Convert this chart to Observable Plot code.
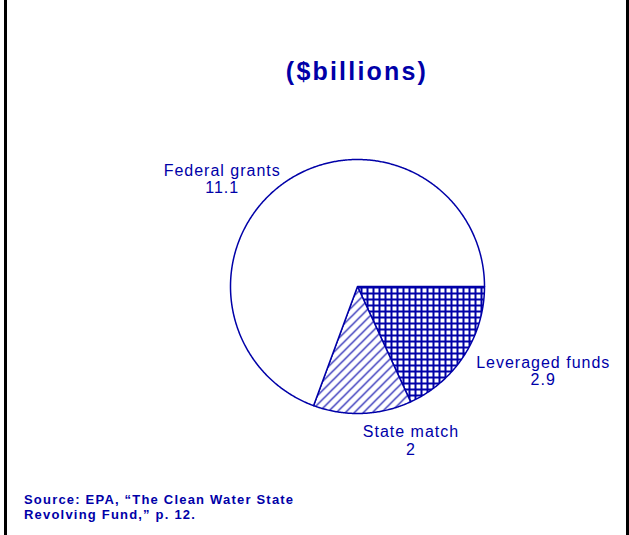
<!DOCTYPE html>
<html>
<head>
<meta charset="utf-8">
<script src="https://cdn.jsdelivr.net/npm/d3@7"></script>
<script src="https://cdn.jsdelivr.net/npm/@observablehq/plot@0.6"></script>
<style>
  html, body { margin: 0; padding: 0; background: #fff; }
  #wrap { position: relative; width: 629px; height: 535px; overflow: hidden; font-family: "Liberation Sans", Arial, sans-serif; }
  #lb { position: absolute; left: 4px; top: 0; width: 3px; height: 535px; background: #000; }
  #rb { position: absolute; left: 626px; top: 0; width: 3px; height: 535px; background: #000; }
  #title { position: absolute; left: 57px; width: 600px; top: 59px; text-align: center; font-size: 25px; line-height: 25px; font-weight: bold; letter-spacing: 2.2px; color: #0000a8; }
  #chart { position: absolute; left: 0; top: 100px; }
  #caption { position: absolute; left: 24px; top: 492px; font-size: 13px; line-height: 15px; font-weight: bold; letter-spacing: 1.2px; color: #0000a8; }
</style>
</head>
<body>
<div id="wrap">
  <div id="lb"></div>
  <div id="rb"></div>
  <div id="title">($billions)</div>
  <div id="chart"></div>
  <div id="caption">Source: EPA, “The Clean Water State<br>Revolving Fund,” p. 12.</div>
</div>
<script>
// ---- data ----
const categories = ["Leveraged funds", "State match", "Federal grants"];
const values = [2.9, 2, 11.1];
const valueLabels = ["2.9", "2", "11.1"];

// ---- styles / layout ----
const BLUE = "#0000a8";
const FONT = "'Liberation Sans', Arial, sans-serif";
const sliceFill = {"Leveraged funds": "url(#grid)", "State match": "url(#hatch)", "Federal grants": "#ffffff"};
const W = 629, H = 380;
const R = 127;            // pie radius in px
const CX = 357, CY = 186; // pie centre inside the svg
const GAP = 8;            // label gap in px
const LS = 1;             // label letter spacing

const rows = categories.map((c, i) => ({name: c, value: values[i], label: valueLabels[i]}));

// pie angles (d3: clockwise from 12 o'clock); start at 3 o'clock
const pie = d3.pie().sort(null).value(d => d.value)
  .startAngle(Math.PI / 2).endAngle(Math.PI / 2 + 2 * Math.PI);
const arcs = pie(rows);

const polys = arcs.map(a => {
  const n = Math.max(2, Math.ceil((a.endAngle - a.startAngle) / (Math.PI / 360)));
  const pts = [{name: a.data.name, x: 0, y: 0}];
  for (let i = 0; i <= n; i++) {
    const t = a.startAngle + (a.endAngle - a.startAngle) * i / n;
    pts.push({name: a.data.name, x: Math.sin(t), y: -Math.cos(t)});
  }
  pts.push({name: a.data.name, x: 0, y: 0});
  return pts;
});

// label placement from slice mid-angles
const ctx = document.createElement("canvas").getContext("2d");
ctx.font = "16px " + FONT;
const labels = arcs.map(a => {
  const mid = (a.startAngle + a.endAngle) / 2;
  const sx = Math.sin(mid), sy = -Math.cos(mid);
  const lines = [a.data.name, a.data.label];
  const w = d3.max(lines, l => ctx.measureText(l).width + LS * (l.length - 1));
  const side = sx >= 0 ? 1 : -1;
  const r = 1 + GAP / R;
  return {
    text: lines.join("\n"),
    x: sx * r + side * (w / 2 + Math.max(0, sx) * Math.max(0, sy) * 12) / R,
    y: sy * r + (Math.max(0, sy) * 16 + 3) / R
  };
});

const marks = polys.map(p => Plot.line(p, {
  x: "x", y: "y", fill: sliceFill[p[0].name], stroke: BLUE,
  strokeWidth: 1.5, strokeLinejoin: "round", curve: "linear"
}));
marks.push(Plot.text(labels, {
  x: "x", y: "y", text: "text", textAnchor: "middle", lineAnchor: "middle",
  lineHeight: 1.08, fontSize: 16, fontFamily: FONT, fill: BLUE
}));

const svg = Plot.plot({
  width: W, height: H, margin: 0,
  x: {domain: [-CX / R, (W - CX) / R], range: [0, W], axis: null},
  y: {domain: [-CY / R, (H - CY) / R], range: [0, H], axis: null},
  style: {background: "transparent", overflow: "visible"},
  marks
});

const defs = d3.select(svg).insert("defs", ":first-child");
const g = defs.append("pattern").attr("id", "grid").attr("patternUnits", "userSpaceOnUse")
  .attr("width", 6).attr("height", 6);
g.append("rect").attr("width", 6).attr("height", 6).attr("fill", "#fff");
g.append("rect").attr("width", 6).attr("height", 2).attr("fill", BLUE).attr("shape-rendering", "crispEdges");
g.append("rect").attr("width", 2).attr("height", 6).attr("fill", BLUE).attr("shape-rendering", "crispEdges");
const h = defs.append("pattern").attr("id", "hatch").attr("patternUnits", "userSpaceOnUse")
  .attr("width", 9).attr("height", 9);
h.append("rect").attr("width", 9).attr("height", 9).attr("fill", "#fff");
h.append("path").attr("d", "M-1,10L10,-1M-2,2L2,-2M7,11L11,7").attr("stroke", BLUE).attr("stroke-width", 1.2);

d3.select(svg).selectAll("text").style("letter-spacing", LS + "px");
document.getElementById("chart").appendChild(svg);
</script>
</body>
</html>
